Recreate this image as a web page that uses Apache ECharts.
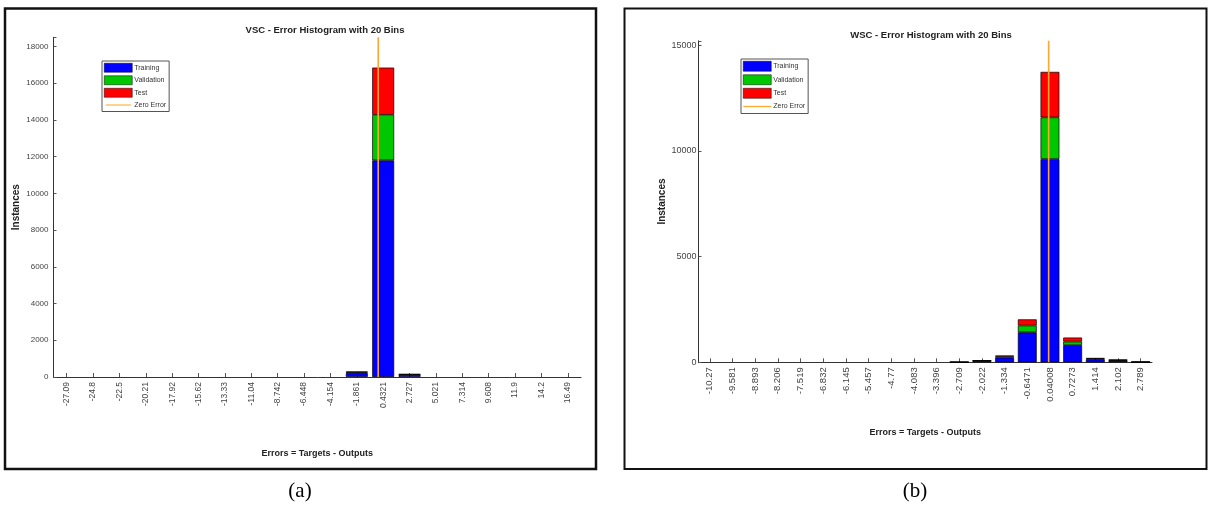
<!DOCTYPE html>
<html>
<head>
<meta charset="utf-8">
<script src="https://cdn.jsdelivr.net/npm/echarts@6/dist/echarts.min.js"></script>
<style>
html,body{margin:0;padding:0;background:#fff;}
#chart{width:1208px;height:511px;}
</style>
</head>
<body>
<div id="chart"></div>
<script>
// ---------- Data ----------
const binsA = ['-27.09','-24.8','-22.5','-20.21','-17.92','-15.62','-13.33','-11.04','-8.742','-6.448','-4.154','-1.861','0.4321','2.727','5.021','7.314','9.608','11.9','14.2','16.49'];
const trainA = [0,0,0,0,0,0,0,0,0,0,0,210,11800,112,0,0,0,0,0,0];
const validA = [0,0,0,0,0,0,0,0,0,0,0,45,2480,24,0,0,0,0,0,0];
const testA  = [0,0,0,0,0,0,0,0,0,0,0,45,2570,24,0,0,0,0,0,0];
const yTicksA = [0,2000,4000,6000,8000,10000,12000,14000,16000,18000];

const binsB = ['-10.27','-9.581','-8.893','-8.206','-7.519','-6.832','-6.145','-5.457','-4.77','-4.083','-3.396','-2.709','-2.022','-1.334','-0.6471','0.04008','0.7273','1.414','2.102','2.789'];
const trainB = [0,0,0,0,0,0,0,0,0,0,0,5,63,225,1420,9610,810,140,85,10];
const validB = [0,0,0,0,0,0,0,0,0,0,0,1,14,48,320,1970,170,30,18,2];
const testB  = [0,0,0,0,0,0,0,0,0,0,0,1,13,47,290,2150,190,30,17,2];
const yTicksB = [0,5000,10000,15000];

const titleA = 'VSC - Error Histogram with 20 Bins';
const titleB = 'WSC - Error Histogram with 20 Bins';
const xName = 'Errors = Targets - Outputs';
const yName = 'Instances';
const legendNames = ['Training','Validation','Test','Zero Error'];

// ---------- Helpers ----------
function binRange(bins){
  const a = parseFloat(bins[0]), b = parseFloat(bins[bins.length-1]);
  const w = (b - a) / (bins.length - 1);
  return [a - w/2, b + w/2];
}
const rA = binRange(binsA), rB = binRange(binsB);
const yMaxA = 18500, yMaxB = 15200;

const C_BLUE = '#0000ff', C_GREEN = '#00c800', C_RED = '#ff0000', C_ZERO = '#ffa733';
const AXC = '#333';
const FONT = 'Arial, Liberation Sans';

function catAxis(grid, bins, fs){
  return {
    type:'category', gridIndex:grid, data:bins, position:'bottom',
    boundaryGap:true,
    axisLine:{onZero:false,lineStyle:{color:AXC,width:1}},
    axisTick:{show:true,inside:true,alignWithLabel:true,length:4,lineStyle:{color:'#555'}},
    axisLabel:{rotate:90,interval:0,fontSize:fs,color:'#444',margin:5,fontFamily:FONT},
    name:xName, nameLocation:'middle', nameGap: grid===0?72:66,
    nameTextStyle:{fontSize:9,fontWeight:'bold',color:'#222',fontFamily:FONT}
  };
}
function valXAxis(grid, r){
  return {type:'value', gridIndex:grid, min:r[0], max:r[1], show:false, position:'bottom',
    axisLine:{onZero:false}};
}
function yAx(grid, max, ticks, interval, fs, gap, margin){
  return {
    type:'value', gridIndex:grid, min:0, max:max, interval:interval, position:'left',
    splitLine:{show:false},
    axisLine:{show:true,onZero:false,lineStyle:{color:AXC,width:1}},
    axisTick:{show:true,inside:true,length:3,lineStyle:{color:'#555'}},
    axisLabel:{fontSize:fs,color:'#444',margin:margin,fontFamily:FONT,
      formatter:(v)=> ticks.indexOf(v) >= 0 ? String(v) : ''},
    name:yName, nameLocation:'middle', nameGap:gap,
    nameTextStyle:{fontSize:10,fontWeight:'bold',color:'#222',fontFamily:FONT}
  };
}
function barSeries(name, data, color, xi, yi, stack){
  return {
    name:name, type:'bar', stack:stack, xAxisIndex:xi, yAxisIndex:yi,
    data:data.map(v => v === 0 ? '-' : v),
    barCategoryGap:'17%',
    itemStyle:{color:color, borderColor:'#000', borderWidth:0.7},
    emphasis:{disabled:true}, animation:false
  };
}
function zeroSeries(xi, yi, ymax){
  return {
    name:'Zero Error', type:'line', xAxisIndex:xi, yAxisIndex:yi,
    data:[[0,0],[0,ymax]], symbol:'none', showSymbol:false, z:10,
    lineStyle:{color:C_ZERO,width:1.6}, itemStyle:{color:C_ZERO},
    emphasis:{disabled:true}, animation:false
  };
}
const ZERO_ICON = 'path://M0,0L0,0M28,10L28,10M0,4.4L28,4.4L28,5.6L0,5.6Z';
function legendAt(left, top, ih){
  return {
    orient:'vertical', left:left, top:top,
    data:legendNames.map(n => n==='Zero Error' ? {name:n, icon:ZERO_ICON, itemStyle:{borderWidth:0}} : {name:n, icon:'rect'}),
    itemWidth:28, itemHeight:ih, itemGap:3, padding:[2,3,2,2],
    itemStyle:{borderWidth:0.5},
    borderColor:'#555', borderWidth:1, backgroundColor:'#fff',
    textStyle:{fontSize:7, color:'#333', padding:[0,0,0,-3], fontFamily:FONT},
    selectedMode:false
  };
}

const chart = echarts.init(document.getElementById('chart'), null, {renderer:'canvas'});
chart.setOption({
  backgroundColor:'#fff',
  animation:false,
  title:[
    {text:titleA, left:320, top:20, textAlign:'center',
      textStyle:{fontSize:9.5,fontWeight:'bold',color:'#222',fontFamily:FONT}},
    {text:titleB, left:926, top:25, textAlign:'center',
      textStyle:{fontSize:9.5,fontWeight:'bold',color:'#222',fontFamily:FONT}}
  ],
  legend:[legendAt(102,61,9), legendAt(741,59,10)],
  grid:[
    {left:53.5, right:1208-581, top:37.3, bottom:511-377},
    {left:698.5, right:1208-1152, top:40.8, bottom:511-362.3}
  ],
  xAxis:[catAxis(0,binsA,8.5), valXAxis(0,rA), catAxis(1,binsB,9.5), valXAxis(1,rB)],
  yAxis:[yAx(0,yMaxA,yTicksA,2000,8,32,5), yAx(1,yMaxB,yTicksB,5000,9,20,2)],
  series:[
    barSeries('Training',trainA,C_BLUE,0,0,'stackA'),
    barSeries('Validation',validA,C_GREEN,0,0,'stackA'),
    barSeries('Test',testA,C_RED,0,0,'stackA'),
    zeroSeries(1,0,yMaxA),
    barSeries('Training',trainB,C_BLUE,2,1,'stackB'),
    barSeries('Validation',validB,C_GREEN,2,1,'stackB'),
    barSeries('Test',testB,C_RED,2,1,'stackB'),
    zeroSeries(3,1,yMaxB)
  ],
  graphic:[
    {type:'rect', shape:{x:5,y:8.5,width:591,height:460.5}, style:{fill:null,stroke:'#111',lineWidth:2.5}, silent:true},
    {type:'rect', shape:{x:624.5,y:8.5,width:582,height:460.5}, style:{fill:null,stroke:'#111',lineWidth:2}, silent:true},
    {type:'text', x:300, y:491, style:{text:'(a)', fill:'#000', font:'21px "Liberation Serif", serif', textAlign:'center', textVerticalAlign:'middle'}, silent:true},
    {type:'text', x:915, y:491, style:{text:'(b)', fill:'#000', font:'21px "Liberation Serif", serif', textAlign:'center', textVerticalAlign:'middle'}, silent:true}
  ]
});
</script>
</body>
</html>
